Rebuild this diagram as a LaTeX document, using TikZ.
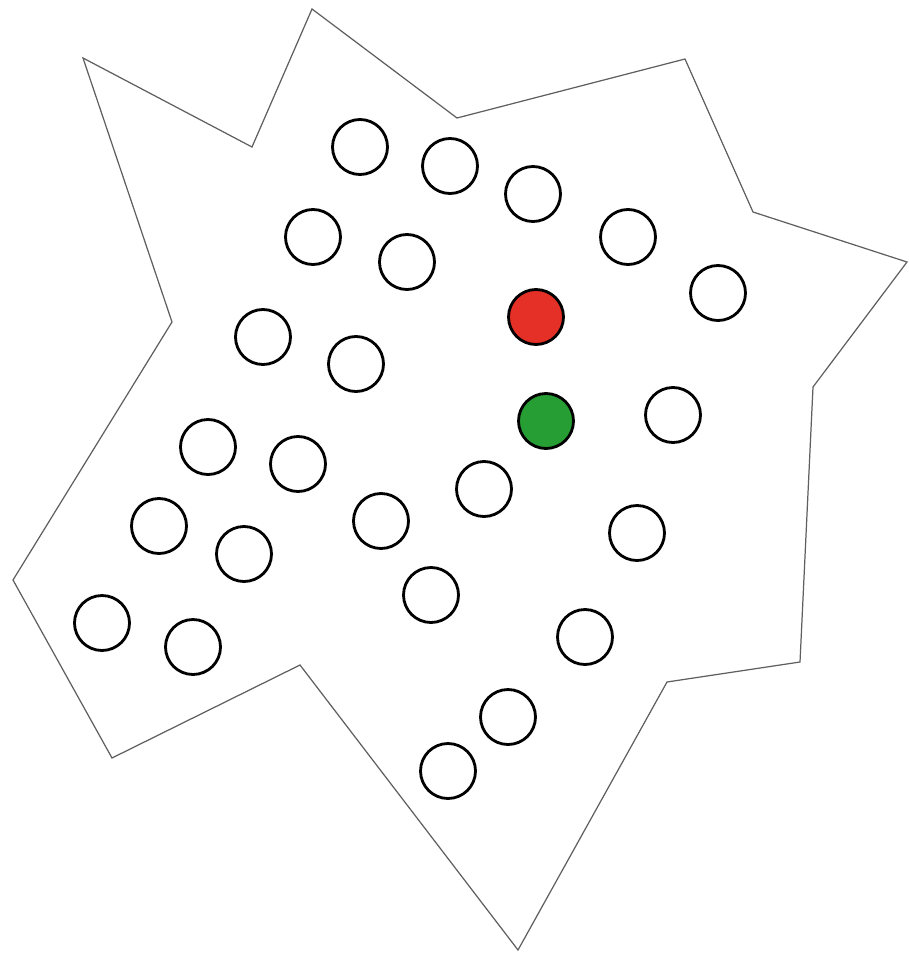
\documentclass[tikz,border=0pt]{standalone}
\usetikzlibrary{positioning}
\definecolor{outline}{RGB}{95,95,95}
\definecolor{dotred}{RGB}{228,48,38}
\definecolor{dotgreen}{RGB}{38,158,52}

\begin{document}
\begin{tikzpicture}[
    x=0.02cm, y=-0.02cm,
    cell/.style={
        circle,
        draw=black,
        line width=1.6pt,
        minimum size=1.1cm,
        inner sep=0pt
    },
    redcell/.style={
        cell,
        fill=dotred
    },
    greencell/.style={
        cell,
        fill=dotgreen
    },
    border/.style={
        draw=outline,
        line width=0.7pt,
        line join=miter
    }
]

% ============================================================
% FRAME — picture size
% ============================================================

\useasboundingbox (0,0) rectangle (909,953);

% ============================================================
% OUTLINE — jagged region
% ============================================================

\draw[border] (83,58) -- (252,147) -- (312,9) -- (457,118) -- (685,59)
    -- (753,212) -- (907,262) -- (813,387) -- (800,662) -- (667,682)
    -- (518,950) -- (300,665) -- (112,758) -- (13,580) -- (172,322)
    -- cycle;

% ============================================================
% CELLS — top rows
% ============================================================

\node[cell] (c1) at (360,147) {};
\node[cell] (c2) at (450,166) {};
\node[cell] (c3) at (533,194) {};
\node[cell] (c4) at (628,237) {};
\node[cell] (c5) at (718,293) {};
\node[cell] (c6) at (313,237) {};
\node[cell] (c7) at (407,262) {};
\node[cell] (c8) at (263,337) {};
\node[cell] (c9) at (356,364) {};

% marked cells
\node[redcell] (red) at (536,317) {};
\node[greencell] (green) at (546,421) {};

% ============================================================
% CELLS — middle and bottom rows
% ============================================================

\node[cell] (c10) at (673,415) {};
\node[cell] (c11) at (208,447) {};
\node[cell] (c12) at (298,464) {};
\node[cell] (c13) at (484,489) {};
\node[cell] (c14) at (159,526) {};
\node[cell] (c15) at (381,521) {};
\node[cell] (c16) at (637,533) {};
\node[cell] (c17) at (244,554) {};
\node[cell] (c18) at (431,595) {};
\node[cell] (c19) at (102,623) {};
\node[cell] (c20) at (193,647) {};
\node[cell] (c21) at (585,637) {};
\node[cell] (c22) at (508,717) {};
\node[cell] (c23) at (448,771) {};

\end{tikzpicture}
\end{document}
